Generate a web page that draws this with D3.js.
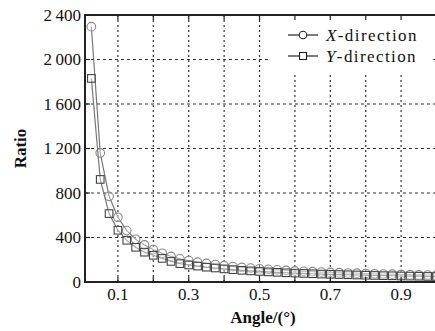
<!DOCTYPE html>
<html>
<head>
<meta charset="utf-8">
<script src="https://cdn.jsdelivr.net/npm/d3@7"></script>
<style>
  body { margin: 0; background: #fff; }
  svg text { font-family: "Liberation Serif", "Times New Roman", Times, serif; }
</style>
</head>
<body>
<div id="chart"></div>
<script>
// angle (deg), one sample every 0.025
const angles = d3.range(1, 41).map(i => +(i * 0.025).toFixed(3));
const xDirection = [2295, 1160, 770, 582, 462, 384, 333, 292, 258, 230,
  208, 193, 178, 167, 157, 147, 139, 131, 125, 119,
  114, 109, 104, 100, 96, 93, 89, 86, 84, 81,
  79, 76, 74, 72, 70, 68, 66, 64, 63, 61];
const yDirection = [1830, 922, 615, 465, 375, 312, 268, 240, 212, 185,
  165, 153, 143, 133, 126, 118, 111, 105, 100, 95,
  91, 87, 83, 80, 77, 74, 71, 69, 67, 65,
  63, 61, 59, 57, 56, 54, 53, 52, 50, 49];
const xTicks = [0.1, 0.3, 0.5, 0.7, 0.9];
const xMinorTicks = [0.2, 0.4, 0.6, 0.8];
const yTicks = [0, 400, 800, 1200, 1600, 2000, 2400];
const seriesNames = ['X-direction', 'Y-direction'];

const width = 435, height = 331;
const margin = { top: 15, right: 0, bottom: 49, left: 85 };
const innerW = width - margin.left - margin.right;
const innerH = height - margin.top - margin.bottom;
const font = '"Liberation Serif", "Times New Roman", Times, serif';

const svg = d3.select('#chart').append('svg')
  .attr('width', width)
  .attr('height', height)
  .attr('font-family', font);

const x = d3.scaleLinear().domain([0.007, 1.0]).range([0, innerW + 1.5]);
const y = d3.scaleLinear().domain([0, 2400]).range([innerH, 0]);

const chart = svg.append('g')
  .attr('transform', `translate(${margin.left},${margin.top})`);

svg.append('defs').append('clipPath').attr('id', 'clip')
  .append('rect').attr('x', 0).attr('y', -6).attr('width', innerW).attr('height', innerH + 6);

// grid
const grid = chart.append('g').attr('class', 'grid');
grid.selectAll('.vg')
  .data(xTicks.concat(xMinorTicks))
  .join('line')
  .attr('x1', d => x(d)).attr('x2', d => x(d))
  .attr('y1', 0).attr('y2', innerH)
  .attr('stroke', '#333').attr('stroke-width', 1.2)
  .attr('stroke-dasharray', '2,3');
grid.selectAll('.hg')
  .data(yTicks.slice(1, -1))
  .join('line')
  .attr('x1', 0).attr('x2', innerW)
  .attr('y1', d => y(d)).attr('y2', d => y(d))
  .attr('stroke', '#333').attr('stroke-width', 1.2)
  .attr('stroke-dasharray', '3,3');

// legend background (hides grid)
chart.append('rect')
  .attr('x', 183).attr('y', 1).attr('width', 162).attr('height', 56)
  .attr('fill', '#fff');
const legend = chart.append('g')
  .attr('transform', 'translate(200,20)');

// series
const plot = chart.append('g').attr('clip-path', 'url(#clip)');
const line = d3.line().x(d => x(d[0])).y(d => y(d[1]));
const series = [
  { name: seriesNames[0], values: xDirection, shape: 'circle' },
  { name: seriesNames[1], values: yDirection, shape: 'square' }
];
series.forEach(s => {
  const pts = angles.map((a, i) => [a, s.values[i]]);
  plot.append('path')
    .datum(pts)
    .attr('d', line)
    .attr('fill', 'none')
    .attr('stroke', '#777')
    .attr('stroke-width', 1.2);
  const marks = plot.selectAll(null).data(pts);
  if (s.shape === 'circle') {
    marks.join('circle')
      .attr('cx', d => x(d[0])).attr('cy', d => y(d[1]))
      .attr('r', 4.3)
      .attr('fill', 'rgba(255,255,255,0.35)')
      .attr('stroke', '#888').attr('stroke-width', 1.1);
  } else {
    marks.join('rect')
      .attr('x', d => x(d[0]) - 3.8).attr('y', d => y(d[1]) - 3.8)
      .attr('width', 7.6).attr('height', 7.6)
      .attr('fill', 'rgba(255,255,255,0.35)')
      .attr('stroke', '#444').attr('stroke-width', 1.1);
  }
});

// axes frame
chart.append('line')
  .attr('x1', 0).attr('x2', 0).attr('y1', -1).attr('y2', innerH + 1)
  .attr('stroke', '#222').attr('stroke-width', 2);
chart.append('line')
  .attr('x1', -1).attr('x2', innerW).attr('y1', innerH).attr('y2', innerH)
  .attr('stroke', '#222').attr('stroke-width', 2);
chart.append('line')
  .attr('x1', -1).attr('x2', innerW).attr('y1', 0).attr('y2', 0)
  .attr('stroke', '#222').attr('stroke-width', 2);

// inward ticks
const allX = xTicks.concat(xMinorTicks);
chart.selectAll('.tb').data(allX).join('line')
  .attr('x1', d => x(d)).attr('x2', d => x(d))
  .attr('y1', innerH).attr('y2', innerH - 5)
  .attr('stroke', '#222').attr('stroke-width', 1.2);
chart.selectAll('.tt').data(allX).join('line')
  .attr('x1', d => x(d)).attr('x2', d => x(d))
  .attr('y1', 0).attr('y2', 5)
  .attr('stroke', '#222').attr('stroke-width', 1.2);
chart.selectAll('.tl').data(yTicks).join('line')
  .attr('x1', 0).attr('x2', 5)
  .attr('y1', d => y(d)).attr('y2', d => y(d))
  .attr('stroke', '#222').attr('stroke-width', 1.2);

// tick labels
const fmt = d => d >= 1000 ? d3.format('d')(d).replace(/(\d)(\d{3})$/, '$1\u2009$2') : String(d);
chart.selectAll('.yl').data(yTicks).join('text')
  .attr('x', -4).attr('y', d => y(d)).attr('dy', '0.33em')
  .attr('text-anchor', 'end')
  .attr('font-size', 17)
  .attr('fill', '#111')
  .text(fmt);
chart.selectAll('.xl').data(xTicks).join('text')
  .attr('x', d => x(d)).attr('y', innerH + 18)
  .attr('text-anchor', 'middle')
  .attr('font-size', 17)
  .attr('fill', '#111')
  .text(d => d3.format('.1f')(d));

// axis titles
svg.append('text')
  .attr('transform', `translate(26,${margin.top + innerH / 2}) rotate(-90)`)
  .attr('text-anchor', 'middle')
  .attr('font-size', 17)
  .attr('font-weight', 'bold')
  .attr('fill', '#111')
  .text('Ratio');
svg.append('text')
  .attr('x', 263).attr('y', 323)
  .attr('text-anchor', 'middle')
  .attr('font-size', 17)
  .attr('font-weight', 'bold')
  .attr('fill', '#111')
  .text('Angle/(°)');

// legend entries
series.forEach((s, i) => {
  const row = legend.append('g').attr('transform', `translate(0,${i * 21})`);
  row.append('line')
    .attr('x1', 3).attr('x2', 33).attr('y1', 0).attr('y2', 0)
    .attr('stroke', '#222').attr('stroke-width', 1.2);
  if (s.shape === 'circle') {
    row.append('circle').attr('cx', 18).attr('cy', 0).attr('r', 3.8)
      .attr('fill', '#fff').attr('stroke', '#222').attr('stroke-width', 1.1);
  } else {
    row.append('rect').attr('x', 14.5).attr('y', -3.5).attr('width', 7).attr('height', 7)
      .attr('fill', '#fff').attr('stroke', '#222').attr('stroke-width', 1.1);
  }
  const t = row.append('text')
    .attr('x', 41).attr('y', 0).attr('dy', '0.33em')
    .attr('font-size', 17)
    .attr('letter-spacing', 1.4)
    .attr('fill', '#111');
  const parts = s.name.split('-');
  t.append('tspan').attr('font-style', 'italic').text(parts[0]);
  t.append('tspan').text('-' + parts[1]);
});
</script>
</body>
</html>
